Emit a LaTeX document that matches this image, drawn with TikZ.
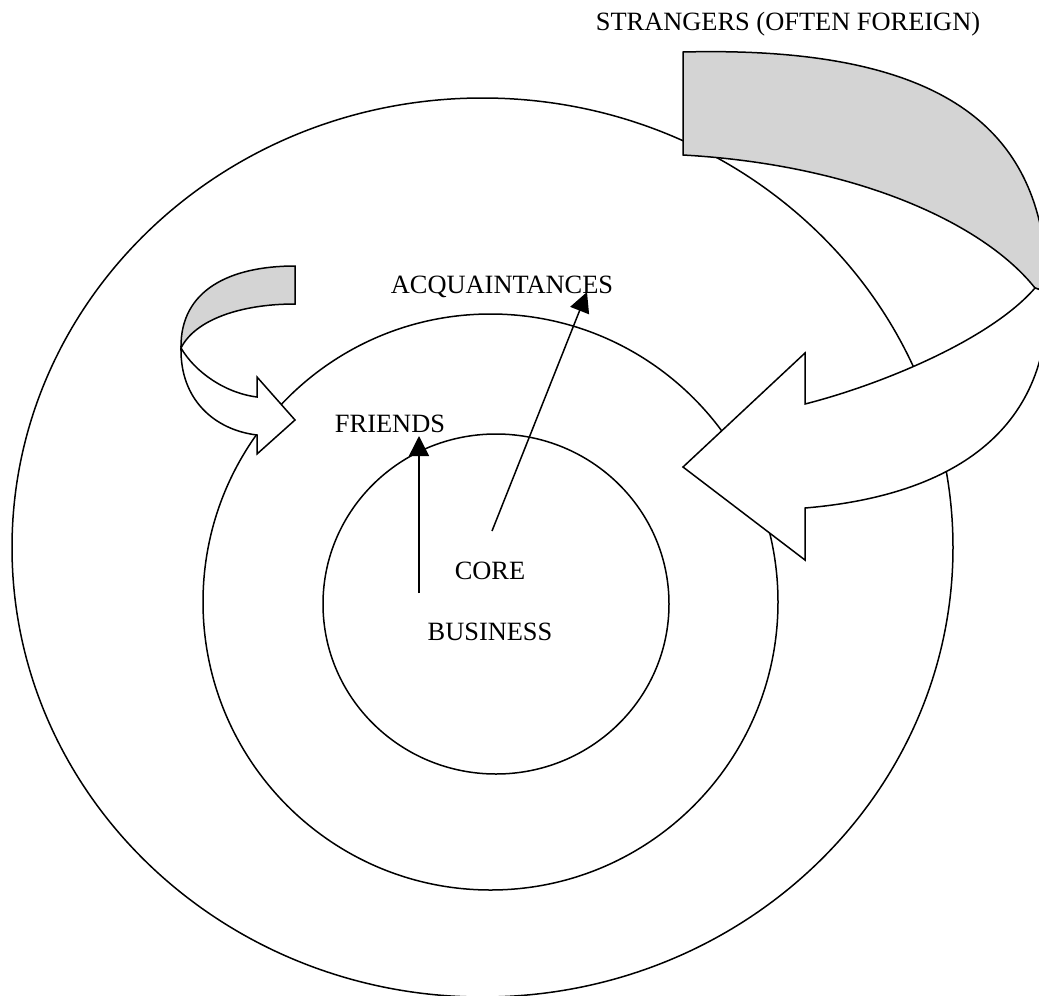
\documentclass[tikz,border=0pt]{standalone}
\usepackage{fontspec}
\setmainfont{Liberation Serif}
\usetikzlibrary{arrows.meta}
\definecolor{foldgray}{RGB}{212,212,212}

\begin{document}
\begin{tikzpicture}[x=0.5pt,y=-0.5pt,line width=0.75pt,
	ring/.style={draw},
	ribbon/.style={draw,fill=white,line join=miter},
	backside/.style={draw,fill=foldgray,line join=miter},
	txt/.style={font=\fontsize{13.2pt}{16pt}\selectfont,inner sep=0pt,anchor=base},
	pointer/.style={-{Triangle[length=10pt,width=10pt]}}]
	\useasboundingbox (0,0) rectangle (1039,996);
	\clip (0,0) rectangle (1039,996);
	\draw[ring] (482.5,547.5) ellipse [x radius=235.25pt,y radius=224.75pt];
	\draw[ring] (490.5,602) ellipse [x radius=143.75pt,y radius=144pt];
	\draw[ring] (496,604) ellipse [x radius=86.5pt,y radius=85pt];

	\coordinate (bigT) at (1035,288);
	\coordinate (bigR) at (1047,292);
	\draw[backside] (683,52) .. controls (960,45) and (1047,140) .. (bigR) -- (bigT)
		.. controls (985,225) and (860,165) .. (683,155) -- cycle;
	\draw[ribbon] (bigR) .. controls (1052,425) and (960,495) .. (805,508)
		-- (805,560) -- (683,467) -- (805,353) -- (805,404)
		.. controls (880,385) and (990,340) .. (bigT) -- cycle;

	\coordinate (smallF) at (181,348);
	\draw[backside] (295,266) .. controls (230,266) and (180,290) .. (smallF)
		.. controls (195,320) and (240,304) .. (295,304) -- cycle;
	\draw[ribbon] (smallF) .. controls (180,400) and (215,430) .. (257,435)
		-- (257,454) -- (295,420) -- (257,377) -- (257,397)
		.. controls (225,393) and (195,372) .. (smallF) -- cycle;

	\node[txt] (strangers) at (788,30) {STRANGERS (OFTEN FOREIGN)};
	\node[txt] (acquaintances) at (502,293) {ACQUAINTANCES};
	\node[txt] (friends) at (390,432) {FRIENDS};
	\node[txt] (core) at (490,579) {CORE};
	\node[txt] (business) at (490,640) {BUSINESS};

	\coordinate (fr0) at (419,593);
	\coordinate (fr1) at (419,436);
	\coordinate (ac0) at (492,531);
	\coordinate (ac1) at (587,292);
	\draw[pointer] (fr0) -- (fr1);
	\draw[pointer] (ac0) -- (ac1);
\end{tikzpicture}
\end{document}
